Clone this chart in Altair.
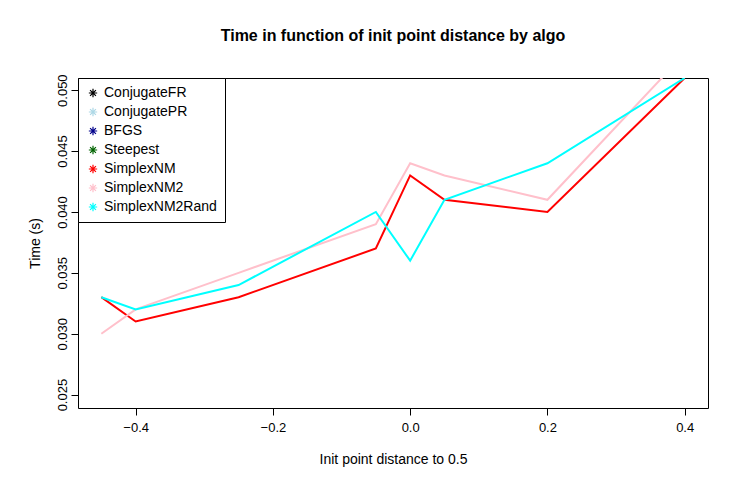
import pandas as pd
import altair as alt

algos = ["ConjugateFR", "ConjugatePR", "BFGS", "Steepest", "SimplexNM", "SimplexNM2", "SimplexNM2Rand"]
colors = ["black", "lightblue", "darkblue", "darkgreen", "red", "pink", "cyan"]

dist = [-0.45, -0.4, -0.25, -0.05, 0.0, 0.05, 0.2, 0.4]
simplex_nm = [0.033, 0.031, 0.033, 0.037, 0.043, 0.041, 0.040, 0.051]
simplex_nm2 = [0.030, 0.032, 0.035, 0.039, 0.044, 0.043, 0.041, 0.053]
simplex_nm2_rand = [0.033, 0.032, 0.034, 0.040, 0.036, 0.041, 0.044, 0.051]

rows = []
for name, vals in [("SimplexNM", simplex_nm), ("SimplexNM2", simplex_nm2), ("SimplexNM2Rand", simplex_nm2_rand)]:
    for d, v in zip(dist, vals):
        rows.append({"algo": name, "dist": d, "time": v})
df = pd.DataFrame(rows)

star = "M-1,0L1,0M0,-1L0,1M-0.7,-0.7L0.7,0.7M-0.7,0.7L0.7,-0.7"
font = "Liberation Sans"

chart = (
    alt.Chart(df)
    .mark_line(strokeWidth=2, clip=True)
    .encode(
        x=alt.X("dist:Q", title="Init point distance to  0.5",
                scale=alt.Scale(domain=[-0.484, 0.434], nice=False, zero=False),
                axis=alt.Axis(values=[-0.4, -0.2, 0.0, 0.2, 0.4], format=".1f",
                              labelPadding=6, titlePadding=18)),
        y=alt.Y("time:Q", title="Time (s)",
                scale=alt.Scale(domain=[0.0239, 0.0510], nice=False, zero=False),
                axis=alt.Axis(values=[0.025, 0.030, 0.035, 0.040, 0.045, 0.050], format=".3f",
                              labelAngle=270, labelAlign="center", labelBaseline="bottom",
                              labelPadding=2, titlePadding=14)),
        color=alt.Color("algo:N", sort=algos,
                        scale=alt.Scale(domain=algos, range=colors),
                        legend=alt.Legend(title=None, orient="top-left", offset=0,
                                          symbolType=star, symbolSize=70, symbolStrokeWidth=1.2,
                                          strokeColor="black", padding=8, rowPadding=5,
                                          labelFontSize=14, labelFont=font, fillColor="white")),
        detail="algo:N",
    )
    .properties(
        width=630, height=330,
        title=alt.TitleParams("Time in function of init point distance by algo",
                              fontSize=16, font=font, fontWeight="bold", offset=30),
        autosize=alt.AutoSizeParams(type="none"),
        padding={"left": 70, "top": 70, "right": 30, "bottom": 80},
    )
    .configure_view(stroke="black", strokeWidth=1)
    .configure_axis(grid=False, domain=False, tickColor="black", tickSize=7,
                    labelFont=font, titleFont=font, labelFontSize=13, titleFontSize=14,
                    labelColor="black", titleColor="black", titleFontWeight="normal")
)

chart.save("out.html", embed_options={"renderer": "svg", "actions": False})
